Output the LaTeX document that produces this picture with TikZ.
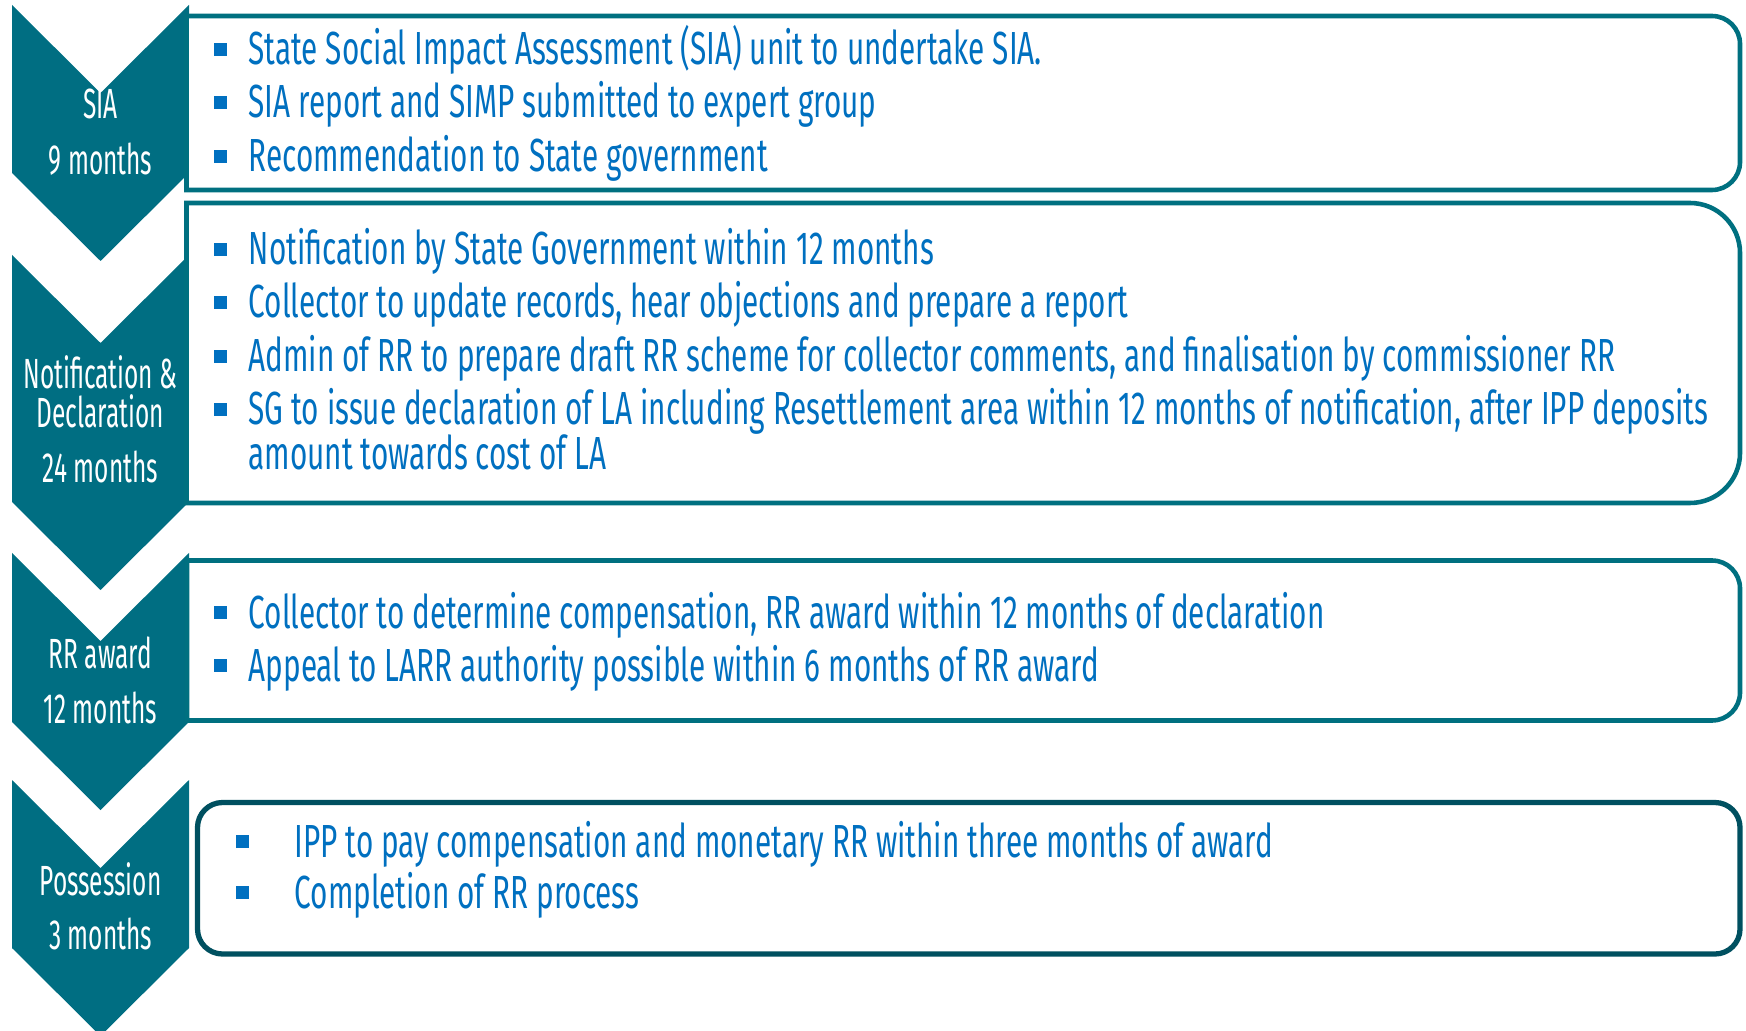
\documentclass[tikz,border=0pt]{standalone}
\usepackage{fontspec}
\setmainfont{Fira Sans}[FakeStretch=0.64]
\newfontfamily\stagefont{Fira Sans}[FakeStretch=0.58]
\definecolor{chevteal}{RGB}{0,110,130}
\definecolor{frameteal}{RGB}{0,112,128}
\definecolor{framedark}{RGB}{0,80,96}
\definecolor{itemblue}{RGB}{0,112,192}
\newcommand{\bul}[1][0.35cm]{\makebox[#1][l]{\textcolor{itemblue}{\rule[0.09cm]{0.13cm}{0.13cm}}}}
\begin{document}
\begin{tikzpicture}[x=0.01cm, y=-0.01cm,
    chev/.style={fill=chevteal},
    frame/.style={draw=frameteal, line width=1.3pt, fill=white},
    lbl/.style={text=white, font=\stagefont\fontsize{12pt}{14pt}\selectfont, inner sep=0pt, anchor=base},
    itm/.style={text=itemblue, font=\fontsize{13.2pt}{15pt}\selectfont, inner sep=0pt, anchor=base west}]
    \useasboundingbox (0,0) rectangle (1746,1031);

    % chevrons on the left
    \foreach \t/\b in {5/173, 255/502, 553/722, 780/948}
        \fill[chev] (12,\t) -- (100.5,\t+88) -- (189,\t) -- (189,\b) -- (100.5,\b+88) -- (12,\b) -- cycle;

    % frames
    \draw[frame] (186.5,190) -- (186.5,16) {[rounded corners=0.28cm] -- (1740,16) -- (1740,190)} -- cycle;
    \draw[frame] (186.5,503) -- (186.5,203) {[rounded corners=0.5cm] -- (1740,203) -- (1740,503)} -- cycle;
    \draw[frame] (187,720.5) -- (187,560.5) {[rounded corners=0.28cm] -- (1740,560.5) -- (1740,720.5)} -- cycle;
    \draw[frame, draw=framedark, line width=1.5pt, rounded corners=0.25cm] (197.5,802.5) rectangle (1740,954);

    % stage labels
    \node[lbl] (sianame) at (100.5,119) {SIA};
    \node[lbl] (siatime) at (100.5,175) {9 months};
    \node[lbl] (notname) at (100.5,389) {Notification \&};
    \node[lbl] (decname) at (100.5,428) {Declaration};
    \node[lbl] (nottime) at (100.5,483) {24 months};
    \node[lbl] (rrname) at (100.5,668) {RR award};
    \node[lbl] (rrtime) at (100.5,723) {12 months};
    \node[lbl] (posname) at (100.5,895) {Possession};
    \node[lbl] (postime) at (100.5,949) {3 months};

    % SIA items
    \node[itm] (siaa) at (213,65) {\bul State Social Impact Assessment (SIA) unit to undertake SIA.};
    \node[itm] (siab) at (213,118) {\bul SIA report and SIMP submitted to expert group};
    \node[itm] (siac) at (213,172) {\bul Recommendation to State government};

    % notification items
    \node[itm] (nota) at (213,265) {\bul Notification by State Government within 12 months};
    \node[itm] (notb) at (213,318) {\bul Collector to update records, hear objections and prepare a report};
    \node[itm] (notc) at (213,372) {\bul Admin of RR to prepare draft RR scheme for collector comments, and finalisation by commissioner RR};
    \node[itm] (notd) at (213,425) {\bul SG to issue declaration of LA including Resettlement area within 12 months of notification, after IPP deposits};
    \node[itm] (notdd) at (248,470) {amount towards cost of LA};

    % award items
    \node[itm] (rra) at (213,628) {\bul Collector to determine compensation, RR award within 12 months of declaration};
    \node[itm] (rrb) at (213,681) {\bul Appeal to LARR authority possible within 6 months of RR award};

    % possession items
    \node[itm] (posa) at (235,857) {\bul[0.51cm] IPP to pay compensation and monetary RR within three months of award};
    \node[itm] (posb) at (235,908) {\bul[0.51cm] Completion of RR process};
\end{tikzpicture}
\end{document}
